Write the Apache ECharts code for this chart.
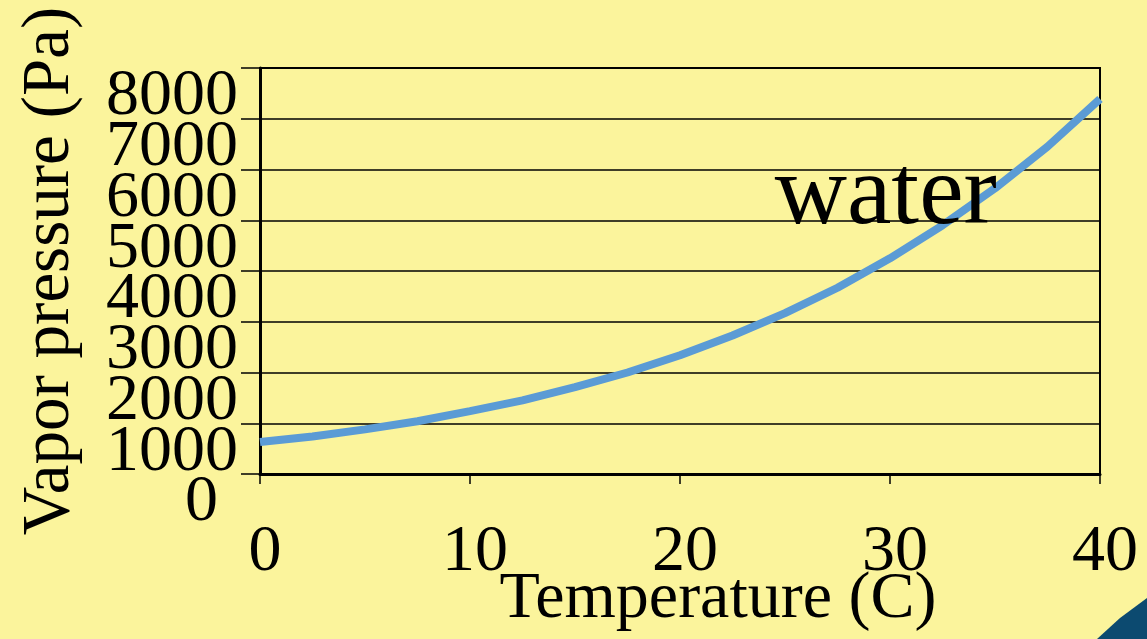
<!DOCTYPE html>
<html>
<head>
<meta charset="utf-8">
<script src="https://cdn.jsdelivr.net/npm/echarts@6/dist/echarts.min.js"></script>
<style>
  html, body { margin: 0; padding: 0; background: #FBF49C; }
  #chart { width: 1147px; height: 639px; }
</style>
</head>
<body>
<div id="chart"></div>
<script>
// Vapor pressure of water vs temperature
const temperatures = [0, 2.5, 5, 7.5, 10, 12.5, 15, 17.5, 20, 22.5, 25, 27.5, 30, 32.5, 35, 37.5, 40];
const pressures = [630, 740, 880, 1040, 1240, 1450, 1710, 2000, 2340, 2730, 3170, 3670, 4250, 4900, 5630, 6450, 7390];
const xTicks = [0, 10, 20, 30, 40];
const yTicks = [0, 1000, 2000, 3000, 4000, 5000, 6000, 7000, 8000];
const seriesName = 'water';

const serif = '"Liberation Serif", "DejaVu Serif", serif';
const chart = echarts.init(document.getElementById('chart'));

chart.setOption({
  backgroundColor: '#FBF49C',
  animation: false,
  grid: {
    left: 260, right: 47, top: 68, bottom: 165,
    outerBoundsMode: 'none',
    containLabel: false,
    show: true, borderColor: '#000', borderWidth: 2
  },
  xAxis: {
    type: 'value',
    min: xTicks[0], max: xTicks[xTicks.length - 1], interval: 10,
    name: 'Temperature (C)',
    nameLocation: 'middle',
    nameGap: 93,
    nameMoveOverlap: false,
    nameTextStyle: { fontFamily: serif, fontSize: 66, color: '#000', padding: [0, 0, 0, 76] },
    axisLine: { show: true, lineStyle: { color: '#000', width: 3 } },
    axisTick: { show: true, length: 10, lineStyle: { color: '#000', width: 1.5 } },
    axisLabel: {
      fontFamily: serif, fontSize: 66, color: '#000', margin: 46,
      padding: [0, 0, 0, 10],
      showMinLabel: true, showMaxLabel: true, hideOverlap: false
    },
    splitLine: { show: false }
  },
  yAxis: [{
    // tick labels, ticks and gridlines at each pressure step
    type: 'category',
    data: yTicks.map(String),
    boundaryGap: false,
    name: 'Vapor pressure (Pa)',
    nameLocation: 'middle',
    nameRotate: 90,
    nameGap: 166,
    nameMoveOverlap: false,
    nameTextStyle: { fontFamily: serif, fontSize: 67, color: '#000', padding: [0, 0, 10, 0] },
    axisLine: { show: true, lineStyle: { color: '#000', width: 3 } },
    axisTick: { show: true, interval: 0, length: 19, lineStyle: { color: '#000', width: 1.5 } },
    axisLabel: {
      interval: 0,
      fontFamily: serif, fontSize: 66, lineHeight: 58, color: '#000', margin: 22,
      verticalAlign: 'top', hideOverlap: false,
      formatter: v => v === '0' ? '{z|0}' : v,
      rich: { z: { fontFamily: serif, fontSize: 66, lineHeight: 58, color: '#000', padding: [0, 20, 0, 0] } }
    },
    splitLine: { show: true, interval: 0, lineStyle: { color: '#000', width: 1.5 } }
  }, {
    // value scale for the curve
    type: 'value',
    min: yTicks[0], max: yTicks[yTicks.length - 1], interval: 1000,
    show: false
  }],
  series: [{
    name: seriesName,
    type: 'line',
    yAxisIndex: 1,
    data: temperatures.map((t, i) => [t, pressures[i]]),
    showSymbol: false,
    lineStyle: { color: '#5B9BD5', width: 8 },
    markPoint: {
      symbol: 'circle', symbolSize: 0,
      data: [{ coord: [29.8, 5460] }],
      label: {
        show: true, position: 'inside', formatter: seriesName,
        fontFamily: serif, fontSize: 100, color: '#000'
      }
    },
    z: 3
  }],
  graphic: [{
    type: 'polygon',
    shape: { points: [[1097, 639], [1120, 618], [1147, 598], [1147, 639]] },
    style: { fill: '#0C4A70' },
    z: 10
  }]
});
</script>
</body>
</html>
